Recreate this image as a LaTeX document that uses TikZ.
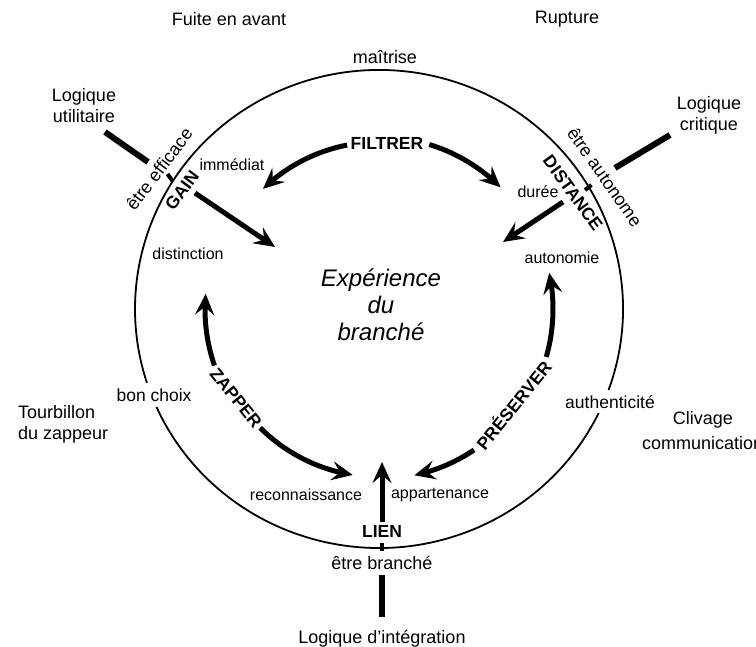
\documentclass[tikz,border=0pt]{standalone}
\usepackage{fontspec}
\setmainfont{Liberation Sans}
\usetikzlibrary{arrows.meta,bending}
\begin{document}
\begin{tikzpicture}[x=1pt,y=1pt,
  outer/.style={font=\fontsize{18}{21}\selectfont, inner sep=0pt, align=center},
  inner/.style={font=\fontsize{16}{19}\selectfont, inner sep=0pt},
  mid/.style={font=\fontsize{17.5}{20}\selectfont, inner sep=0pt},
  verb/.style={font=\fontsize{17.5}{20}\selectfont\bfseries, inner sep=0pt},
  ring/.style={line width=1.8pt},
  arr/.style={line width=5pt, -{Stealth[length=21pt,width=19pt,inset=8pt]}},
  logic/.style={line width=6pt},
  tick/.style={line width=4pt}]
\useasboundingbox (0,0) rectangle (756,647);
\coordinate (C) at (379,338);
% ring with two gaps
\draw[ring] (C) ++(-19.8:244 and 239) arc[start angle=-19.8, end angle=198, x radius=244, y radius=239];
\draw[ring] (C) ++(204.2:244 and 239) arc[start angle=204.2, end angle=334.2, x radius=244, y radius=239];
% outer labels
\node[outer] (fuite) at (229,628) {Fuite en avant};
\node[outer] (rupture) at (567,628) {Rupture};
\node[outer] (maitrise) at (385,590) {maîtrise};
\node[outer] (lutil) at (84,541) {Logique\\utilitaire};
\node[outer] (lcrit) at (709,532) {Logique\\critique};
\node[outer, anchor=west, align=left] (tourb) at (18,223) {Tourbillon\\du zappeur};
\node[outer] (clivage) at (703,227) {Clivage};
\node[outer, anchor=west] (comm) at (642,204) {communicationnel};
\node[outer] (linteg) at (382,8) {Logique d'intégration};
\node[outer] (branche) at (382,84) {être branché};
\node[outer, rotate=53] (efficace) at (159,478) {être efficace};
\node[outer, rotate=-55] (autonome) at (605,470) {être autonome};
% inner labels
\node[inner] (immediat) at (232,482) {immédiat};
\node[inner] (distinction) at (188,393) {distinction};
\node[inner] (duree) at (538,455) {durée};
\node[inner] (autonomie) at (562,389) {autonomie};
\node[inner] (reconn) at (306,152) {reconnaissance};
\node[inner] (appart) at (440,152) {appartenance};
\node[mid] (bonchoix) at (154,252) {bon choix};
\node[mid] (authent) at (610,245) {authenticité};
% centre
\node[font=\fontsize{24}{27}\selectfont\itshape, align=center, inner sep=0pt] (exp) at (381,342) {Expérience\\du\\branché};
% verbs
\node[verb] (filtrer) at (387,504) {FILTRER};
\node[verb, rotate=53] (gain) at (182,457) {GAIN};
\node[verb, rotate=-54] (distance) at (573,454) {DISTANCE};
\node[verb, rotate=-51] (zapper) at (236,249) {ZAPPER};
\node[verb, rotate=51] (preserver) at (513,242) {PRÉSERVER};
\node[verb] (lien) at (382,116) {LIEN};
% logic lines and ticks
\coordinate (u1) at (105,515); \coordinate (u2) at (148,485);
\coordinate (c1) at (670,512); \coordinate (c2) at (615,479);
\coordinate (i1) at (382,30); \coordinate (i2) at (382,72);
\draw[logic] (u1) -- (u2);
\draw[logic] (c1) -- (c2);
\draw[logic] (i1) -- (i2);
\coordinate (tu1) at (167.5,473); \coordinate (tu2) at (172.5,466);
\coordinate (tc1) at (591.5,462); \coordinate (tc2) at (585,457);
\coordinate (ti1) at (382,96); \coordinate (ti2) at (382,104);
\draw[tick] (tu1) -- (tu2);
\draw[tick] (tc1) -- (tc2);
\draw[tick] (ti1) -- (ti2);
% straight arrows
\coordinate (gs) at (195,454); \coordinate (gt) at (275,400);
\coordinate (ds) at (563,445); \coordinate (dt) at (503,405);
\coordinate (ls) at (382,125); \coordinate (lt) at (382,185);
\draw[arr] (gs) -- (gt);
\draw[arr] (ds) -- (dt);
\draw[arr] (ls) -- (lt);
% curved arrows
\draw[arr] (C) ++(101:167) arc[start angle=101, end angle=134, radius=167];
\draw[arr] (C) ++(73:172) arc[start angle=73, end angle=45, radius=172];
\draw[arr] (C) ++(199:174) arc[start angle=199, end angle=175, radius=174];
\draw[arr] (C) ++(225:168) arc[start angle=225, end angle=261, radius=168];
\draw[arr] (C) ++(-16:174) arc[start angle=-16, end angle=12, radius=174];
\draw[arr] (C) ++(-56:170) arc[start angle=-56, end angle=-78, radius=170];
\end{tikzpicture}
\end{document}
